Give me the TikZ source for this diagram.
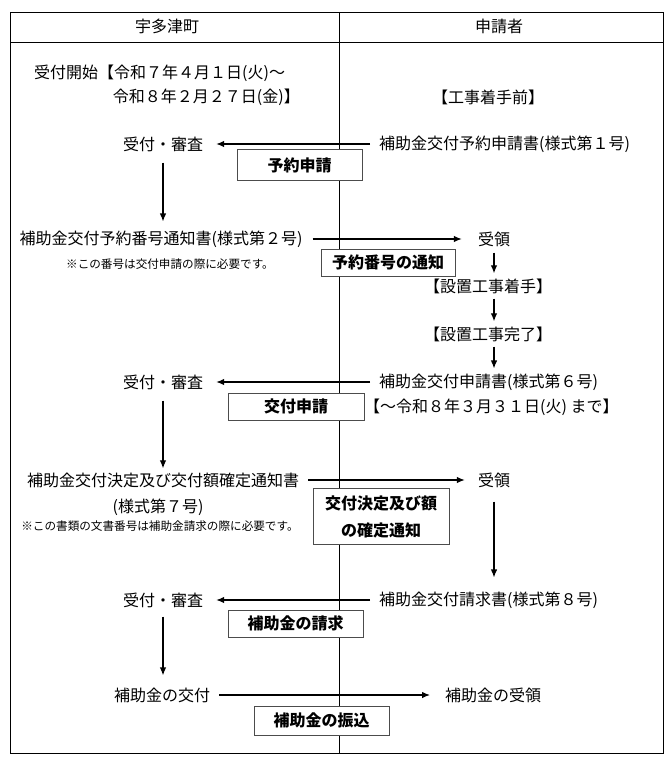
\documentclass[tikz,border=0pt]{standalone}
\usepackage{fontspec}
\setmainfont{Noto Sans CJK JP}
\usetikzlibrary{arrows.meta,calc}
\begin{document}
\begin{tikzpicture}[x=1pt,y=-1pt,
  txt/.style={inner sep=0pt, font=\fontsize{16}{18}\selectfont},
  small/.style={inner sep=0pt, font=\fontsize{11.6}{13}\selectfont},
  lbl/.style={draw=black!70, fill=white, line width=1pt, font=\bfseries\fontsize{16}{27}\selectfont, align=center, inner sep=0pt},
  arr/.style={-{Latex[length=8pt,width=6.5pt]}, line width=1.2pt},
  frame/.style={line width=0.9pt}]
\useasboundingbox (0,0) rectangle (671,759);
\fill[white] (0,0) rectangle (671,759);
% frame and lanes
\draw[frame] (10,12) rectangle (663,753);
\draw[frame] (10,42) -- (663,42);
\draw[frame] (339,12) -- (339,753);
\node[txt] (hA) at (167,26) {宇多津町};
\node[txt] (hB) at (499,26) {申請者};
% period
\node[txt, anchor=west] (st1) at (34,73) {受付開始【令和７年４月１日(火)～};
\node[txt, anchor=east] (st2) at (300,97) {令和８年２月２７日(金)】};
\node[txt] (pre) at (488,97) {【工事着手前】};
% step 1
\node[txt] (rev1) at (163,144) {受付・審査};
\node[txt, anchor=west] (req1) at (379,144) {補助金交付予約申請書(様式第１号)};
\node[lbl, minimum width=125pt, minimum height=31pt] (b1) at (299.5,165.5) {予約申請};
% step 2
\node[txt] (not1) at (161,239) {補助金交付予約番号通知書(様式第２号)};
\node[small] (note1) at (170,264) {※この番号は交付申請の際に必要です。};
\node[txt] (rcv1) at (494,239) {受領};
\node[lbl, minimum width=134pt, minimum height=27pt] (b2) at (388,262.5) {予約番号の通知};
\node[txt] (work1) at (488,286) {【設置工事着手】};
\node[txt] (work2) at (488,334) {【設置工事完了】};
% step 3
\node[txt] (rev2) at (163,382) {受付・審査};
\node[txt, anchor=west] (req2) at (379,382) {補助金交付申請書(様式第６号)};
\node[lbl, minimum width=136pt, minimum height=27pt] (b3) at (296,406.5) {交付申請};
\node[txt, anchor=west] (dl) at (364,407) {【～令和８年３月３１日(火) まで】};
% step 4
\node[txt] (not2) at (163,480) {補助金交付決定及び交付額確定通知書};
\node[txt] (not2b) at (158,507) {(様式第７号)};
\node[small] (note2) at (160,526) {※この書類の文書番号は補助金請求の際に必要です。};
\node[txt] (rcv2) at (494,480) {受領};
\node[lbl, minimum width=136pt, minimum height=56pt] (b4) at (381,516.5) {交付決定及び額\\の確定通知};
% step 5
\node[txt] (rev3) at (163,600) {受付・審査};
\node[txt, anchor=west] (req3) at (379,600) {補助金交付請求書(様式第８号)};
\node[lbl, minimum width=135pt, minimum height=27pt] (b5) at (295.5,623.5) {補助金の請求};
% step 6
\node[txt] (pay) at (162,695) {補助金の交付};
\node[txt, anchor=west] (recv) at (445,695) {補助金の受領};
\node[lbl, minimum width=135pt, minimum height=29pt] (b6) at (321.5,720.5) {補助金の振込};
% connectors
\draw[arr, shorten <=9pt, shorten >=13pt] (req1.west) -- (rev1.east);
\draw[arr, shorten <=11pt, shorten >=9pt] (rev1.south) -- (rev1.south |- not1.north);
\draw[arr, shorten <=10pt, shorten >=16pt] (not1.east) -- (not1.east -| rcv1.west);
\draw[arr, shorten <=6pt, shorten >=5pt] (rcv1.south) -- (rcv1.south |- work1.north);
\draw[arr, shorten <=5pt, shorten >=5pt] (rcv1.south |- work1.south) -- (rcv1.south |- work2.north);
\draw[arr, shorten <=5pt, shorten >=5pt] (rcv1.south |- work2.south) -- (rcv1.south |- req2.north);
\draw[arr, shorten <=9pt, shorten >=13pt] (req2.west) -- (rev2.east);
\draw[arr, shorten <=11pt, shorten >=4pt] (rev2.south) -- (rev2.south |- not2.north);
\draw[arr, shorten <=9pt, shorten >=13pt] (not2.east) -- (not2.east -| rcv2.west);
\draw[arr, shorten <=14pt, shorten >=14pt] (rcv2.south) -- (rcv2.south |- req3.north);
\draw[arr, shorten <=9pt, shorten >=13pt] (req3.west) -- (rev3.east);
\draw[arr, shorten <=9pt, shorten >=12pt] (rev3.south) -- (rev3.south |- pay.north);
\draw[arr, shorten <=9pt, shorten >=15pt] (pay.east) -- (recv.west);
\end{tikzpicture}
\end{document}
